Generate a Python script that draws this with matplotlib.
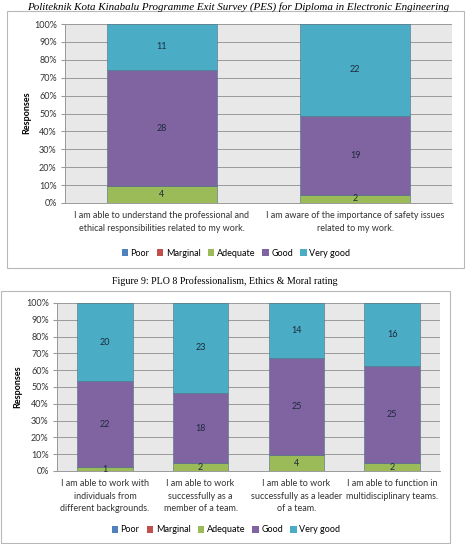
import matplotlib
matplotlib.use('Agg')
import matplotlib.pyplot as plt
from matplotlib.patches import Rectangle, Patch
import numpy as np

# Data
levels = ['Poor', 'Marginal', 'Adequate', 'Good', 'Very good']
colors = ['#4F81BD', '#C0504D', '#9BBB59', '#8064A2', '#4BACC6']

labels_plo8 = ['I am able to understand the professional and\nethical responsibilities related to my work.',
               'I am aware of the importance of safety issues\nrelated to my work.']
poor_plo8 = [0, 0]
marginal_plo8 = [0, 0]
adequate_plo8 = [4, 2]
good_plo8 = [28, 19]
verygood_plo8 = [11, 22]

labels_plo9 = ['I am able to work with\nindividuals from\ndifferent backgrounds.',
               'I am able to work\nsuccessfully as a\nmember of a team.',
               'I am able to work\nsuccessfully as a leader\nof a team.',
               'I am able to function in\nmultidisciplinary teams.']
poor_plo9 = [0, 0, 0, 0]
marginal_plo9 = [0, 0, 0, 0]
adequate_plo9 = [1, 2, 4, 2]
good_plo9 = [22, 18, 25, 25]
verygood_plo9 = [20, 23, 14, 16]

yticks = [0, 10, 20, 30, 40, 50, 60, 70, 80, 90, 100]

header = 'Politeknik Kota Kinabalu Programme Exit Survey (PES) for Diploma in Electronic Engineering'
caption = 'Figure 9: PLO 8 Professionalism, Ethics & Moral rating'

W, H = 472, 544
chart_font = 'Lato'


def px(x, y):
    return x / W, 1 - y / H


def stacked_chart(ax, cats, series, width):
    series = np.array(series, dtype=float)
    totals = series.sum(axis=0)
    pct = series / totals * 100
    x = np.arange(len(cats))
    bottom = np.zeros(len(cats))
    for i, vals in enumerate(pct):
        ax.bar(x, vals, width, bottom=bottom, color=colors[i],
               edgecolor='#4a6f80', linewidth=0.4, zorder=3)
        for j, v in enumerate(vals):
            if series[i, j] > 0:
                ax.text(x[j], bottom[j] + v / 2, f'{int(series[i, j])}',
                        ha='center', va='center', fontsize=6.5,
                        color='#1c2a3a', family=chart_font, zorder=4)
        bottom += vals
    ax.set_facecolor('#E8E8E8')
    ax.set_xlim(-0.5, len(cats) - 0.5)
    ax.set_ylim(0, 100)
    ax.set_yticks(yticks)
    ax.set_yticklabels([f'{t}%' for t in yticks], fontsize=6.5, family=chart_font, color='#333333')
    ax.yaxis.grid(True, color='#9a9a9a', linewidth=0.7, zorder=0)
    ax.set_axisbelow(True)
    ax.set_xticks(x)
    ax.set_xticklabels(cats, fontsize=6.5, family=chart_font, color='#333333', linespacing=1.5)
    ax.tick_params(axis='x', length=0, pad=6)
    ax.tick_params(axis='y', length=3, color='#9a9a9a', pad=3)
    for s in ['top', 'right']:
        ax.spines[s].set_visible(False)
    for s in ['left', 'bottom']:
        ax.spines[s].set_color('#9a9a9a')
        ax.spines[s].set_linewidth(0.7)


fig = plt.figure(figsize=(W / 100, H / 100), dpi=100)

fig.text(*px(238, 7), header, ha='center', va='center', fontsize=7.9,
         family='Liberation Serif', style='italic')

# Chart 1 box
x0, y0 = px(7, 268)
fig.add_artist(Rectangle((x0, y0), (464 - 7) / W, (268 - 11) / H, transform=fig.transFigure,
                         facecolor='white', edgecolor='#b8b8b8', linewidth=0.8, zorder=0))
l, b = px(65, 203)
ax1 = fig.add_axes([l, b, 387 / W, 179 / H])
stacked_chart(ax1, labels_plo8,
              [poor_plo8, marginal_plo8, adequate_plo8, good_plo8, verygood_plo8], 0.57)
fig.text(*px(27, 113), 'Responses', rotation=90, ha='center', va='center',
         fontsize=6.5, fontweight='bold', family=chart_font)

handles = [Patch(facecolor=c, edgecolor='none') for c in colors]
fig.legend(handles, levels, loc='center', bbox_to_anchor=px(236, 253), ncol=5,
           frameon=False, handlelength=0.7, handleheight=0.7, handletextpad=0.3,
           columnspacing=0.8, prop={'family': chart_font, 'size': 6.5})

fig.text(*px(225, 281), caption, ha='center', va='center', fontsize=7.2,
         family='Liberation Serif')

# Chart 2 box
x0, y0 = px(1, 543)
fig.add_artist(Rectangle((x0, y0), (450 - 1) / W, (543 - 291) / H, transform=fig.transFigure,
                         facecolor='white', edgecolor='#b8b8b8', linewidth=0.8, zorder=0))
l, b = px(57, 471)
ax2 = fig.add_axes([l, b, 383 / W, 168 / H])
stacked_chart(ax2, labels_plo9,
              [poor_plo9, marginal_plo9, adequate_plo9, good_plo9, verygood_plo9], 0.58)
fig.text(*px(18, 387), 'Responses', rotation=90, ha='center', va='center',
         fontsize=6.5, fontweight='bold', family=chart_font)

fig.legend(handles, levels, loc='center', bbox_to_anchor=px(226, 530), ncol=5,
           frameon=False, handlelength=0.7, handleheight=0.7, handletextpad=0.3,
           columnspacing=0.8, prop={'family': chart_font, 'size': 6.5})

fig.savefig('out.png', dpi=100)
